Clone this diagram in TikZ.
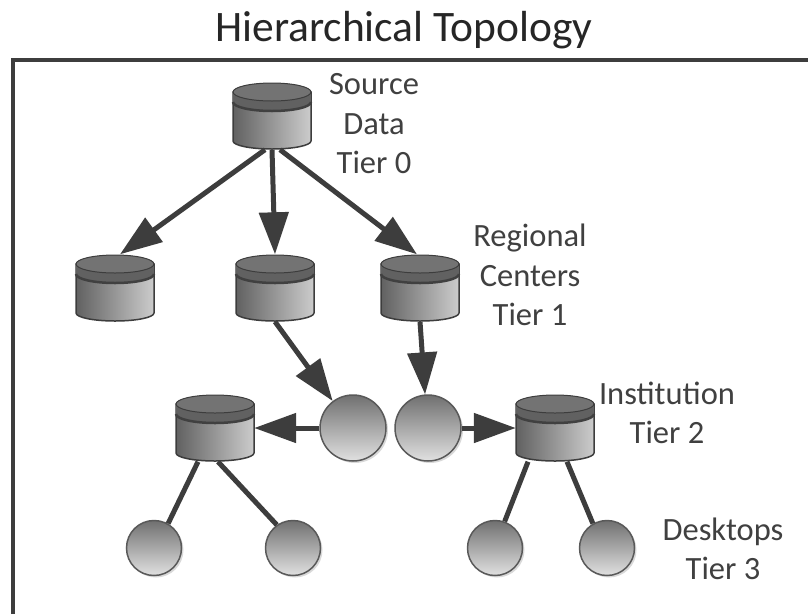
\documentclass[tikz,border=0pt]{standalone}
\usepackage{fontspec}
\setmainfont{Carlito}
\usetikzlibrary{arrows.meta,shadows}
\definecolor{ink}{gray}{0.24}
\definecolor{txt}{gray}{0.25}
\tikzset{
  x=1pt,y=-1pt,
  cylbox/.style={inner sep=0pt,minimum width=78pt,minimum height=67pt,draw=none},
  circnode/.style={circle,inner sep=0pt,draw=black!65,line width=1.5pt,top color=black!56,bottom color=black!12,
    drop shadow={shadow xshift=2pt,shadow yshift=-2pt,opacity=0.15,fill=black}},
  bigcirc/.style={circnode,minimum size=66pt},
  smallcirc/.style={circnode,minimum size=55pt},
  conn/.style={draw=ink,line width=5pt},
  arrowconn/.style={conn,-{Triangle[length=42pt,width=29pt]}},
  lbl/.style={align=center,font=\fontsize{32.5}{39.5}\selectfont,text=txt,inner sep=0pt},
  ttl/.style={font=\fontsize{43.5}{48}\selectfont,text=black!85,inner sep=0pt}
}
\newcommand{\dbcyl}[3]{%
  \node[cylbox] (#1) at (#2,#3) {};
  \path[draw=ink,line width=1.5pt,left color=black!62,right color=black!20]
    (#2-39,#3-24) -- (#2-39,#3+25) arc[start angle=180,end angle=360,x radius=39,y radius=-8]
    -- (#2+39,#3-24) -- cycle;
  \fill[black!62] (#2-39,#3-24) arc[start angle=180,end angle=360,x radius=39,y radius=-9]
    -- (#2+39,#3-14) arc[start angle=360,end angle=180,x radius=39,y radius=-9] -- cycle;
  \draw[black!75,line width=2.5pt] (#2-39,#3-14) arc[start angle=180,end angle=360,x radius=39,y radius=-9];
  \fill[black!55,draw=ink,line width=1pt] (#2,#3-24) ellipse[x radius=39,y radius=9];
}
\begin{document}
\begin{tikzpicture}
\useasboundingbox (0,0) rectangle (808,614);
\fill[white] (0,0) rectangle (808,614);
\draw[ink,line width=4pt] (13,614) -- (13,60) -- (808,60);
\node[ttl] (title) at (404,30) {Hierarchical Topology};

\dbcyl{t0}{272}{116}
\dbcyl{ra}{115}{288}
\dbcyl{rb}{275}{288}
\dbcyl{rc}{420}{288}
\dbcyl{il}{215}{428}
\dbcyl{ir}{555}{428}

\node[bigcirc] (cl) at (353,428) {};
\node[bigcirc] (cr) at (428,428) {};
\node[smallcirc] (d1) at (154,548) {};
\node[smallcirc] (d2) at (293,548) {};
\node[smallcirc] (d3) at (495,548) {};
\node[smallcirc] (d4) at (607,548) {};

\draw[arrowconn] ([xshift=-7pt]t0.south) -- ([xshift=5pt]ra.north);
\draw[arrowconn] (t0.south) -- (rb.north);
\draw[arrowconn] ([xshift=8pt]t0.south) -- ([xshift=-3pt]rc.north);
\draw[arrowconn] (rb.south) -- (cl.127);
\draw[arrowconn] (rc.south) -- (cr.95);
\draw[arrowconn] (cl.west) -- (il.east);
\draw[arrowconn] (cr.east) -- (ir.west);
\draw[conn] ([xshift=-17pt]il.south) -- (d1.60);
\draw[conn] ([xshift=3pt]il.south) -- (d2.125);
\draw[conn] ([xshift=-27pt]ir.south) -- (d3.70);
\draw[conn] ([xshift=12pt]ir.south) -- (d4.120);

\node[lbl] (l0) at (374,124) {Source\\Data\\Tier 0};
\node[lbl] (l1) at (530,275) {Regional\\Centers\\Tier 1};
\node[lbl] (l2) at (667,413) {Institution\\Tier 2};
\node[lbl] (l3) at (723,549) {Desktops\\Tier 3};
\end{tikzpicture}
\end{document}
